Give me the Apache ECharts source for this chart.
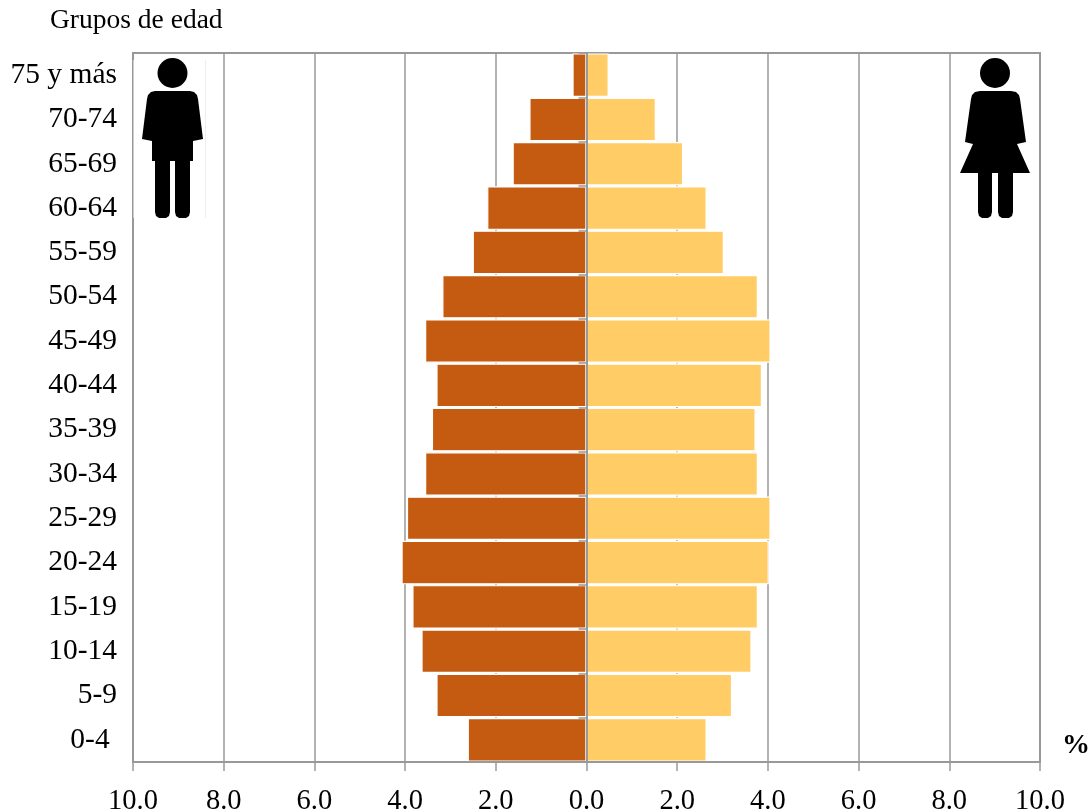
<!DOCTYPE html>
<html>
<head>
<meta charset="utf-8">
<style>html,body{margin:0;padding:0;background:#fff}#c{width:1090px;height:812px}</style>
<script src="https://cdn.jsdelivr.net/npm/echarts@6/dist/echarts.min.js"></script>
</head>
<body>
<div id="c"></div>
<script>
const categories = ['75 y más','70-74','65-69','60-64','55-59','50-54','45-49','40-44','35-39','30-34','25-29','20-24','15-19','10-14','5-9','0-4\u00A0'];
const hombres = [0.31,1.26,1.63,2.19,2.51,3.18,3.56,3.31,3.41,3.56,3.96,4.08,3.84,3.64,3.31,2.62];
const mujeres = [0.49,1.53,2.13,2.65,3.03,3.78,4.06,3.87,3.73,3.78,4.06,4.02,3.78,3.64,3.21,2.65];
const serif = '"Liberation Serif","Times New Roman",serif';
const GRAY = '#999999';

const manOutline = [[155,91],[190,91],[194,92],[197,95],[198,99],[203,139],[193,141],[193,161],[190,161],[190,212],[189,216],[186,218],[179,218],[176,216],[175,212],[175,161],[170,161],[170,212],[169,216],[166,218],[159,218],[156,216],[155,212],[155,161],[152,161],[152,141],[142,139],[147,99],[148,95],[151,92]];
const womanOutline = [[980,91],[1011,91],[1016,92],[1019,95],[1020,99],[1026,142],[1017,144],[1030,173],[1013,173],[1013,212],[1012,216],[1009,218],[1002,218],[999,216],[998,212],[998,173],[992,173],[992,212],[991,216],[988,218],[982,218],[979,216],[978,212],[978,173],[960,173],[973,144],[965,142],[971,99],[972,95],[975,92]];

const chart = echarts.init(document.getElementById('c'), null, {renderer:'canvas'});
const barStyle = c => ({color:c, borderColor:'#ffffff', borderWidth:1.2});
chart.setOption({
  animation:false,
  backgroundColor:'#ffffff',
  grid:{show:true, left:133, top:53, width:907, height:709, outerBoundsMode:'none', borderColor:GRAY, borderWidth:2, backgroundColor:'transparent'},
  xAxis:[
    {type:'value', min:-10, max:10, interval:2, position:'bottom',
     axisLine:{show:false}, axisTick:{show:false},
     splitLine:{show:true, lineStyle:{color:GRAY, width:1.5}},
     axisLabel:{margin:25, color:'#000', fontFamily:serif, fontSize:28.5,
       formatter:v=>Math.abs(v).toFixed(1)}},
    {type:'value', min:-10, max:10, interval:2, position:'bottom', z:4,
     axisLine:{show:true, onZero:false, lineStyle:{color:GRAY, width:2}},
     axisTick:{show:true, length:9, lineStyle:{color:GRAY, width:1.5}},
     axisLabel:{show:false}, splitLine:{show:false}}
  ],
  yAxis:[
    {type:'category', inverse:true, data:categories, position:'left',
     axisLine:{show:false, onZero:false}, axisTick:{show:false},
     axisLabel:{margin:16, color:'#000', fontFamily:serif, fontSize:29.5, padding:[5,0,0,0]}},
    {type:'category', inverse:true, data:categories, position:'left', z:4,
     axisLine:{show:true, onZero:true, lineStyle:{color:GRAY, width:2}},
     axisTick:{show:true, length:8, lineStyle:{color:GRAY, width:1.5}},
     axisLabel:{show:false}}
  ],
  series:[
    {name:'Hombres', type:'bar', stack:'p', barWidth:43.5, xAxisIndex:0, yAxisIndex:0,
     data:hombres.map(v=>-v), itemStyle:barStyle('#C55A11')},
    {name:'Mujeres', type:'bar', stack:'p', barWidth:43.5, xAxisIndex:0, yAxisIndex:0,
     data:mujeres, itemStyle:barStyle('#FFCC66')}
  ],
  graphic:[
    {type:'text', left:50, top:7, style:{text:'Grupos de edad', fontFamily:serif, fontSize:27.5, fill:'#000'}},
    {type:'text', left:1062, top:732, style:{text:'%', fontFamily:serif, fontSize:28, fontWeight:'bold', fill:'#000'}},
    {type:'rect', z:5, shape:{x:133.5, y:60, width:72, height:158}, style:{fill:'#ffffff', lineWidth:0}},
    {type:'line', z:5, shape:{x1:205.5, y1:60, x2:205.5, y2:218}, style:{stroke:'#eeeeee', lineWidth:1}},
    {type:'circle', z:6, shape:{cx:172.5, cy:73, r:15}, style:{fill:'#000'}},
    {type:'polygon', z:6, shape:{points:manOutline}, style:{fill:'#000'}},
    {type:'circle', z:6, shape:{cx:995, cy:73, r:15}, style:{fill:'#000'}},
    {type:'polygon', z:6, shape:{points:womanOutline}, style:{fill:'#000'}}
  ]
});
</script>
</body>
</html>
